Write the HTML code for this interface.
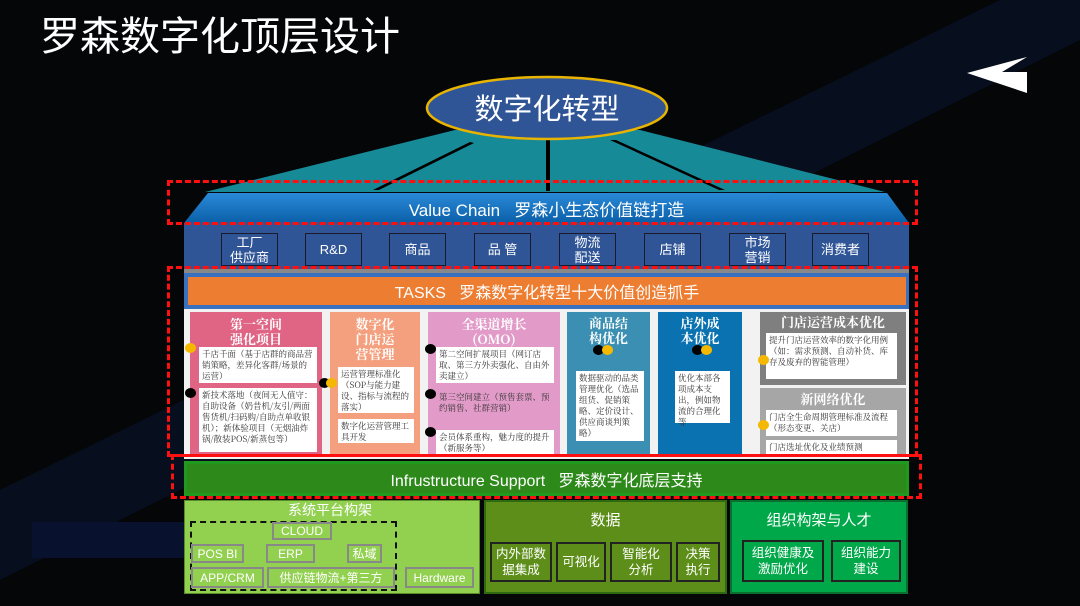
<!DOCTYPE html>
<html><head><meta charset="utf-8"><style>
*{margin:0;padding:0;box-sizing:border-box}
body{width:1080px;height:606px;background:#050608;position:relative;overflow:hidden;font-family:"Liberation Sans","Noto Sans CJK SC",sans-serif}
.a{position:absolute}
.c{display:flex;align-items:center;justify-content:center;text-align:center}
.vb{background:#2f5597;border:1px solid #1a1a2a;color:#fff;font-size:13px;line-height:15px}
.col{position:absolute;top:312px;height:143px;font-family:"Noto Serif CJK SC","Liberation Serif",serif}
.ct{color:#fff;font-size:13px;line-height:15px;text-align:center;font-weight:bold}
.wb{position:absolute;background:#fff;color:#333;font-size:8.5px;line-height:11px;padding:2px 3px;font-family:"Noto Serif CJK SC",serif}
.dot{position:absolute;width:11px;height:10px;border-radius:50%}
.y{background:#f5b800}.k{background:#000}
.gb{position:absolute;border:2px solid #888;color:#fff;font-size:12px;display:flex;align-items:center;justify-content:center}
.db{position:absolute;border:2px solid #222;color:#fff;font-size:12.5px;line-height:16px;display:flex;align-items:center;justify-content:center;text-align:center}
</style></head><body>
<svg class="a" style="left:0;top:0" width="1080" height="606">
<defs><linearGradient id="vc" x1="0" y1="0" x2="0" y2="1"><stop offset="0" stop-color="#2a8ad8"/><stop offset="1" stop-color="#0b5fa8"/></linearGradient></defs>
<polygon points="0,490 1000,0 1080,0 1080,40 0,580" fill="#0a1530" opacity="0.55"/>
<rect x="32" y="522" width="152" height="36" fill="#08112e"/>
<polygon points="455,130 640,130 885,192 205,192" fill="#178a98"/>
<polygon points="373,190 470,142 474,143 379,190" fill="#000"/>
<rect x="546" y="140" width="4" height="51" fill="#000"/>
<polygon points="610,140 616,140 725,190 719,190" fill="#000"/>
<ellipse cx="547" cy="108" rx="120" ry="31" fill="#2f5597" stroke="#e8b400" stroke-width="2.5"/>
<text x="547" y="119" fill="#fff" font-size="29" text-anchor="middle" font-family="Liberation Sans,Noto Sans CJK SC,sans-serif">数字化转型</text>
<polygon points="208,193 887,193 909,223 184,223" fill="url(#vc)"/>
<polygon points="967,73 1027,57 1002,72 1027,72 1027,93" fill="#fff"/>
</svg>
<div class="a" style="left:40px;top:8px;color:#fff;font-size:40px;font-family:'Noto Sans CJK SC',sans-serif;line-height:50px">罗森数字化顶层设计</div>
<div class="a c" style="left:184px;top:194px;width:725px;height:28px;color:#fff;font-size:17px">Value Chain&nbsp;&nbsp;&nbsp;罗森小生态价值链打造</div>
<div class="a" style="left:184px;top:223px;width:725px;height:50px;background:#2f5597;border-bottom:4px solid #888"></div>
<div class="a c vb" style="left:221px;top:233px;width:57px;height:33px">工厂<br>供应商</div>
<div class="a c vb" style="left:305px;top:233px;width:57px;height:33px">R&amp;D</div>
<div class="a c vb" style="left:389px;top:233px;width:57px;height:33px">商品</div>
<div class="a c vb" style="left:474px;top:233px;width:57px;height:33px">品 管</div>
<div class="a c vb" style="left:559px;top:233px;width:57px;height:33px">物流<br>配送</div>
<div class="a c vb" style="left:644px;top:233px;width:57px;height:33px">店铺</div>
<div class="a c vb" style="left:729px;top:233px;width:57px;height:33px">市场<br>营销</div>
<div class="a c vb" style="left:812px;top:233px;width:57px;height:33px">消费者</div>
<div class="a" style="left:184px;top:273px;width:725px;height:36px;background:#3a70c0"></div>
<div class="a c" style="left:188px;top:277px;width:718px;height:28px;background:#ed7d31;color:#fff;font-size:16px">TASKS&nbsp;&nbsp;&nbsp;罗森数字化转型十大价值创造抓手</div>
<div class="a" style="left:184px;top:309px;width:725px;height:150px;background:#f2f2f2"></div>
<div class="col" style="left:190px;width:132px;background:#e06585"><div class="ct" style="margin-top:4px">第一空间<br>强化项目</div></div>
<div class="wb" style="left:199px;top:347px;width:118px;height:36px">千店千面（基于店群的商品营销策略，差异化客群/场景的运营）</div>
<div class="wb" style="left:199px;top:388px;width:118px;height:64px">新技术落地（夜间无人值守：自助设备（奶昔机/友引/两面售货机/扫码购/自助点单收银机）；新体验项目（无烟油炸锅/散装POS/新蒸包等）</div>
<div class="dot y" style="left:185px;top:343px"></div><div class="dot k" style="left:185px;top:388px"></div>
<div class="col" style="left:330px;width:90px;background:#f4a07e"><div class="ct" style="margin-top:4px">数字化<br>门店运<br>营管理</div></div>
<div class="wb" style="left:338px;top:367px;width:76px;height:46px">运营管理标准化（SOP与能力建设、指标与流程的落实）</div>
<div class="wb" style="left:338px;top:419px;width:76px;height:24px">数字化运营管理工具开发</div>
<div class="dot k" style="left:319px;top:378px"></div><div class="dot y" style="left:326px;top:378px"></div>
<div class="col" style="left:428px;width:132px;background:#e29bc8"><div class="ct" style="margin-top:4px">全渠道增长<br>(OMO)</div></div>
<div class="wb" style="left:436px;top:347px;width:118px;height:36px">第二空间扩展项目（网订店取、第三方外卖强化、自由外卖建立）</div>
<div class="wb" style="left:436px;top:390px;width:118px;height:36px;background:#e29bc8">第三空间建立（预售套票、预约销售、社群营销）</div>
<div class="wb" style="left:436px;top:430px;width:118px;height:24px">会员体系重构，魅力度的提升（新服务等）</div>
<div class="dot k" style="left:425px;top:344px"></div><div class="dot k" style="left:425px;top:389px"></div><div class="dot k" style="left:425px;top:427px"></div>
<div class="col" style="left:567px;width:83px;background:#3b8fb2"><div class="ct" style="margin-top:3px">商品结<br>构优化</div></div>
<div class="dot k" style="left:593px;top:345px"></div><div class="dot y" style="left:602px;top:345px"></div>
<div class="wb" style="left:576px;top:371px;width:68px;height:70px">数据驱动的品类管理优化（选品组货、促销策略、定价设计、供应商谈判策略）</div>
<div class="col" style="left:658px;width:84px;background:#0a72b0"><div class="ct" style="margin-top:3px">店外成<br>本优化</div></div>
<div class="dot k" style="left:692px;top:345px"></div><div class="dot y" style="left:701px;top:345px"></div>
<div class="wb" style="left:675px;top:371px;width:55px;height:52px">优化本部各项成本支出，例如物流的合理化等</div>
<div class="col" style="left:760px;width:146px;height:73px;background:#7f7f7f"><div class="ct" style="margin-top:2px">门店运营成本优化</div></div>
<div class="wb" style="left:766px;top:333px;width:131px;height:46px">提升门店运营效率的数字化用例（如：需求预测、自动补货、库存及废弃的智能管理）</div>
<div class="col" style="left:760px;top:388px;width:146px;height:67px;background:#a6a6a6"><div class="ct" style="margin-top:3px">新网络优化</div></div>
<div class="wb" style="left:766px;top:410px;width:131px;height:26px">门店全生命周期管理标准及流程（形态变更、关店）</div>
<div class="wb" style="left:766px;top:440px;width:131px;height:14px">门店选址优化及业绩预测</div>
<div class="dot y" style="left:758px;top:355px"></div><div class="dot y" style="left:758px;top:420px"></div>
<div class="a c" style="left:184px;top:461px;width:725px;height:35px;background:#1f9a1f;color:#fff;font-size:16px"><span style="position:absolute;inset:3px;background:#2d8a1a"></span><span style="position:relative">Infrustructure Support&nbsp;&nbsp;&nbsp;罗森数字化底层支持</span></div>
<div class="a" style="left:184px;top:500px;width:296px;height:94px;background:#92d050;border:1px solid #5a8a2a"></div>
<div class="a" style="left:180px;top:500px;width:300px;text-align:center;color:#fff;font-size:14px">系统平台构架</div>
<div class="a" style="left:190px;top:521px;width:207px;height:70px;border:2px dashed #111"></div>
<div class="gb" style="left:272px;top:522px;width:60px;height:18px">CLOUD</div>
<div class="gb" style="left:191px;top:544px;width:53px;height:19px">POS BI</div>
<div class="gb" style="left:266px;top:544px;width:49px;height:19px">ERP</div>
<div class="gb" style="left:347px;top:544px;width:35px;height:19px">私域</div>
<div class="gb" style="left:191px;top:567px;width:73px;height:21px">APP/CRM</div>
<div class="gb" style="left:267px;top:567px;width:128px;height:21px">供应链物流+第三方</div>
<div class="gb" style="left:405px;top:567px;width:69px;height:21px">Hardware</div>
<div class="a" style="left:484px;top:500px;width:243px;height:94px;background:#5e8e1a;border:2px solid #2f6a10"></div>
<div class="a" style="left:484px;top:509px;width:243px;text-align:center;color:#fff;font-size:15px">数据</div>
<div class="db" style="left:490px;top:542px;width:62px;height:40px;background:#5e8e1a">内外部数<br>据集成</div>
<div class="db" style="left:556px;top:542px;width:50px;height:40px;background:#5e8e1a">可视化</div>
<div class="db" style="left:610px;top:542px;width:62px;height:40px;background:#5e8e1a">智能化<br>分析</div>
<div class="db" style="left:676px;top:542px;width:44px;height:40px;background:#5e8e1a">决策<br>执行</div>
<div class="a" style="left:730px;top:500px;width:178px;height:94px;background:#00a84a;border:2px solid #0a7030"></div>
<div class="a" style="left:730px;top:509px;width:178px;text-align:center;color:#fff;font-size:15px">组织构架与人才</div>
<div class="db" style="left:742px;top:540px;width:82px;height:42px;background:#00a84a">组织健康及<br>激励优化</div>
<div class="db" style="left:831px;top:540px;width:70px;height:42px;background:#00a84a">组织能力<br>建设</div>
<div class="a" style="left:167px;top:180px;width:751px;height:45px;border:3px dashed #ff1010"></div>
<div class="a" style="left:167px;top:266px;width:751px;height:191px;border:3px dashed #ff1010"></div>
<div class="a" style="left:171px;top:454px;width:751px;height:45px;border:3px dashed #ff1010"></div>
</body></html>
